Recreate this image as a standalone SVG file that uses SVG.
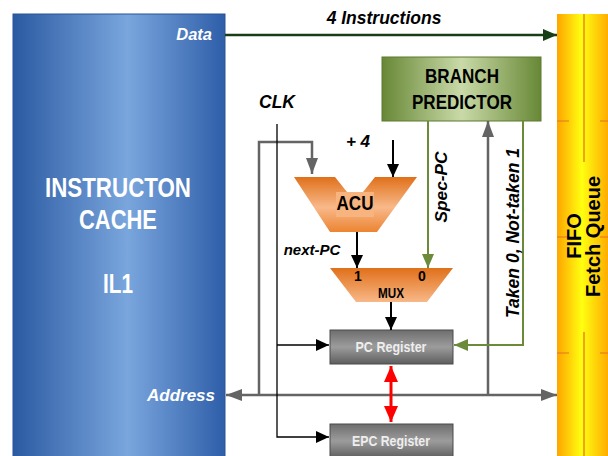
<svg xmlns="http://www.w3.org/2000/svg" width="608" height="456" viewBox="0 0 608 456">
<defs>
<linearGradient id="gCache" x1="0" y1="0" x2="1" y2="0">
<stop offset="0" stop-color="#2b5aa2"/><stop offset="0.54" stop-color="#7aa6dd"/><stop offset="1" stop-color="#2e5ea9"/>
</linearGradient>
<linearGradient id="gFifo" x1="0" y1="0" x2="1" y2="0">
<stop offset="0" stop-color="#ffa400"/><stop offset="0.45" stop-color="#ffff10"/><stop offset="1" stop-color="#ffa000"/>
</linearGradient>
<linearGradient id="gBp" x1="0" y1="0" x2="1" y2="0">
<stop offset="0" stop-color="#688836"/><stop offset="0.5" stop-color="#c9daa8"/><stop offset="1" stop-color="#688836"/>
</linearGradient>
<linearGradient id="gOr" x1="0" y1="0" x2="0" y2="1">
<stop offset="0" stop-color="#e0701a"/><stop offset="0.55" stop-color="#f8b98a"/><stop offset="1" stop-color="#ec8432"/>
</linearGradient>
<linearGradient id="gMux" x1="0" y1="0" x2="0" y2="1">
<stop offset="0" stop-color="#e0701a"/><stop offset="1" stop-color="#f8b888"/>
</linearGradient>
<linearGradient id="gReg" x1="0" y1="0" x2="0" y2="1">
<stop offset="0" stop-color="#6e6e6e"/><stop offset="0.5" stop-color="#9c9c9c"/><stop offset="1" stop-color="#5e5e5e"/>
</linearGradient>
<marker id="aGray" markerUnits="userSpaceOnUse" markerWidth="16" markerHeight="12" refX="16" refY="6" orient="auto-start-reverse"><path d="M0,0 L16,6 L0,12 z" fill="#646464"/></marker>
<marker id="aBlk" markerUnits="userSpaceOnUse" markerWidth="13" markerHeight="12" refX="13" refY="6" orient="auto"><path d="M0,0 L13,6 L0,12 z" fill="#000"/></marker>
<marker id="aGrn" markerUnits="userSpaceOnUse" markerWidth="14" markerHeight="12" refX="14" refY="6" orient="auto"><path d="M0,0 L14,6 L0,12 z" fill="#6b8a3a"/></marker>
<marker id="aDg" markerUnits="userSpaceOnUse" markerWidth="14" markerHeight="12" refX="14" refY="6" orient="auto"><path d="M0,0 L14,6 L0,12 z" fill="#173f17"/></marker>
<marker id="aRed" markerUnits="userSpaceOnUse" markerWidth="16" markerHeight="14" refX="16" refY="7" orient="auto-start-reverse"><path d="M0,0 L16,7 L0,14 z" fill="#ff0000"/></marker>
</defs>
<style>
text{font-family:"Liberation Sans",Arial,sans-serif;font-weight:bold}
.it{font-style:italic}
.w{fill:#ffffff}
.k{fill:#000000}
.reg{fill:url(#gReg);stroke:#4a4a4a;stroke-width:1}
.rt{fill:#eeeeee;font-size:14.5px;text-anchor:middle}
.gray{fill:none;stroke:#646464;stroke-width:2.5}
.blk{fill:none;stroke:#000;stroke-width:2}
.thin{fill:none;stroke:#000;stroke-width:1.3}
.grn{fill:none;stroke:#6b8a3a;stroke-width:2}
</style>
<g id="cache">
<rect x="13" y="14" width="212" height="450" fill="url(#gCache)" stroke="#2a5595" stroke-width="1"/>
<text x="118" y="197" class="w" font-size="28" text-anchor="middle" textLength="146" lengthAdjust="spacingAndGlyphs">INSTRUCTON</text>
<text x="118" y="229" class="w" font-size="28" text-anchor="middle" textLength="78" lengthAdjust="spacingAndGlyphs">CACHE</text>
<text x="118" y="293" class="w" font-size="28" text-anchor="middle" textLength="30" lengthAdjust="spacingAndGlyphs">IL1</text>
<text x="212" y="40" class="w it" font-size="16.5" text-anchor="end">Data</text>
<text x="215" y="401" class="w it" font-size="17" text-anchor="end">Address</text>
</g>
<g id="fifo">
<rect x="557" y="14" width="55" height="450" fill="url(#gFifo)"/>
<path d="M584,14 V162 M584,332 V456" stroke="#e05020" stroke-width="1" fill="none"/>
<path d="M557,121 H569 M600,121 H608 M557,237 H569 M600,237 H608 M557,353 H569 M600,353 H608" stroke="#e87020" stroke-width="1.2" fill="none"/>
<text transform="translate(581,236) rotate(-90)" class="k" font-size="20" text-anchor="middle">FIFO</text>
<text transform="translate(600,236.5) rotate(-90)" class="k" font-size="20" text-anchor="middle">Fetch Queue</text>
</g>
<g id="branch-predictor">
<rect x="382" y="57" width="159" height="64" fill="url(#gBp)" stroke="#5a7a2e" stroke-width="1"/>
<text x="462" y="83" class="k" font-size="21" text-anchor="middle" textLength="74" lengthAdjust="spacingAndGlyphs">BRANCH</text>
<text x="462" y="109" class="k" font-size="21" text-anchor="middle" textLength="100" lengthAdjust="spacingAndGlyphs">PREDICTOR</text>
</g>
<g id="acu">
<polygon points="294,177 335,177 355,202 375,177 417,177 377,232 330,232" fill="url(#gOr)"/>
<rect x="336" y="192" width="38" height="25" fill="#f7b47e"/>
<text x="355" y="210" class="k" font-size="21" text-anchor="middle" textLength="37" lengthAdjust="spacingAndGlyphs">ACU</text>
</g>
<g id="mux">
<polygon points="330,268 453,268 427,302 356,302" fill="url(#gMux)"/>
<text x="358" y="281" class="k" font-size="14" text-anchor="middle">1</text>
<text x="422" y="281" class="k" font-size="14" text-anchor="middle">0</text>
<text x="391" y="298" class="k" font-size="14" text-anchor="middle" textLength="26" lengthAdjust="spacingAndGlyphs">MUX</text>
</g>
<g id="pc-register">
<rect x="330" y="330" width="123" height="34" class="reg"/>
<text x="391" y="352" class="rt" textLength="71" lengthAdjust="spacingAndGlyphs">PC Register</text>
</g>
<g id="epc-register">
<rect x="330" y="424" width="123" height="34" class="reg"/>
<text x="391" y="446" class="rt" textLength="78" lengthAdjust="spacingAndGlyphs">EPC Register</text>
</g>
<g id="connectors">
<path d="M225,35 H557" stroke="#173f17" stroke-width="2.5" fill="none" marker-end="url(#aDg)"/>
<path d="M226,395 H557" class="gray" marker-start="url(#aGray)" marker-end="url(#aGray)"/>
<path d="M488,395 V121" class="gray" marker-end="url(#aGray)"/>
<path d="M259,395 V142 H312 V174" class="gray" marker-end="url(#aGray)"/>
<path d="M277,124 V437 H329" class="thin" marker-end="url(#aBlk)"/>
<path d="M277,345 H329" class="thin" marker-end="url(#aBlk)"/>
<path d="M393,140 V177" class="blk" marker-end="url(#aBlk)"/>
<path d="M357,232 V268" class="blk" marker-end="url(#aBlk)"/>
<path d="M391,302 V330" class="blk" marker-end="url(#aBlk)"/>
<path d="M428,121 V268" class="grn" marker-end="url(#aGrn)"/>
<path d="M523,121 V345 H454" class="grn" marker-end="url(#aGrn)"/>
<path d="M391,366 V422" stroke="#ff0000" stroke-width="3" fill="none" marker-start="url(#aRed)" marker-end="url(#aRed)"/>
<text x="384" y="24" class="k it" font-size="17.5" text-anchor="middle">4 Instructions</text>
<text x="277" y="108" class="k it" font-size="17.5" text-anchor="middle">CLK</text>
<text x="358" y="147" class="k it" font-size="17" text-anchor="middle">+ 4</text>
<text x="312" y="255" class="k it" font-size="15" text-anchor="middle">next-PC</text>
<text transform="translate(447,187) rotate(-90)" class="k it" font-size="17" text-anchor="middle" textLength="71" lengthAdjust="spacingAndGlyphs">Spec-PC</text>
<text transform="translate(519,233) rotate(-90)" class="k it" font-size="18" text-anchor="middle" textLength="170" lengthAdjust="spacingAndGlyphs">Taken 0, Not-taken 1</text>
</g>
</svg>
